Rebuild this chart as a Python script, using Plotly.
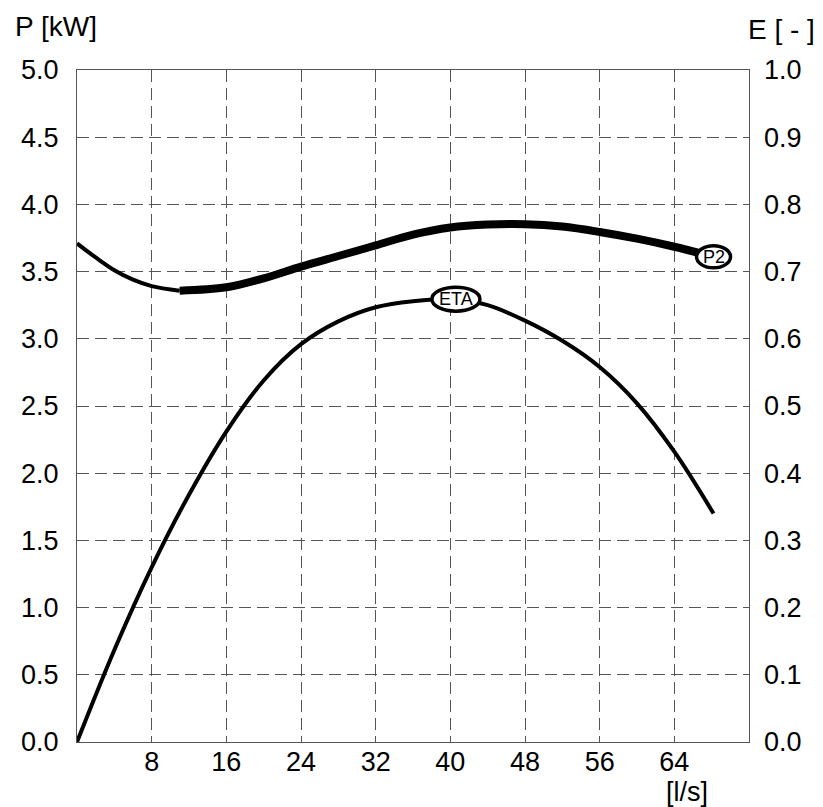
import plotly.graph_objects as go

# Flow [l/s]
q_p2 = [0, 2, 4, 6, 8, 11, 16, 20, 24, 28, 32, 36, 40, 44, 48, 52, 56, 60, 64, 68.2]
# Shaft power P2 [kW]
p2 = [3.71, 3.605, 3.51, 3.44, 3.392, 3.358, 3.383, 3.45, 3.537, 3.616, 3.695, 3.775, 3.828,
      3.85, 3.853, 3.835, 3.795, 3.745, 3.685, 3.61]
# index where the operating (thick) range begins
p2_thick_start = 5

q_eta = [0, 4, 8, 12, 16, 20, 24, 28, 32, 36, 40.6, 44, 48, 52, 56, 60, 64, 68.2]
eta = [0.0, 0.137, 0.26, 0.368, 0.462, 0.538, 0.592, 0.626, 0.647, 0.656, 0.659, 0.65, 0.627,
       0.597, 0.558, 0.504, 0.432, 0.34]

x_ticks = [8, 16, 24, 32, 40, 48, 56, 64]
p_ticks = [0.0, 0.5, 1.0, 1.5, 2.0, 2.5, 3.0, 3.5, 4.0, 4.5, 5.0]
e_ticks = [0.0, 0.1, 0.2, 0.3, 0.4, 0.5, 0.6, 0.7, 0.8, 0.9, 1.0]

FONT = "Liberation Sans, Arial, sans-serif"

fig = go.Figure()
fig.add_trace(go.Scatter(x=q_p2[:p2_thick_start + 1], y=p2[:p2_thick_start + 1], mode="lines",
                         line=dict(color="black", width=4, shape="spline"), showlegend=False))
fig.add_trace(go.Scatter(x=q_p2[p2_thick_start:], y=p2[p2_thick_start:], mode="lines",
                         line=dict(color="black", width=8, shape="spline"), showlegend=False))
fig.add_trace(go.Scatter(x=q_eta, y=eta, mode="lines", yaxis="y2",
                         line=dict(color="black", width=4, shape="spline"), showlegend=False))

# curve labels
i_eta = eta.index(max(eta))
fig.add_shape(type="circle", xref="x", yref="y", xsizemode="pixel", ysizemode="pixel",
              xanchor=q_p2[-1], yanchor=p2[-1], x0=-17, x1=17, y0=-11, y1=11,
              line=dict(color="black", width=3.5), fillcolor="white")
fig.add_annotation(x=q_p2[-1], y=p2[-1], xref="x", yref="y", text="P2", showarrow=False,
                   xanchor="center", yanchor="middle",
                   font=dict(family=FONT, size=18, color="black"))
fig.add_shape(type="circle", xref="x", yref="y2", xsizemode="pixel", ysizemode="pixel",
              xanchor=q_eta[i_eta], yanchor=eta[i_eta], x0=-24, x1=24, y0=-12, y1=12,
              line=dict(color="black", width=3.5), fillcolor="white")
fig.add_annotation(x=q_eta[i_eta], y=eta[i_eta], xref="x", yref="y2", text="ETA", showarrow=False,
                   xanchor="center", yanchor="middle",
                   font=dict(family=FONT, size=18, color="black"))

# axis titles
title_font = dict(family=FONT, size=28, color="black")
fig.add_annotation(x=-0.031, y=1.064, xref="paper", yref="paper", text="P [kW]", showarrow=False,
                   xanchor="center", yanchor="middle", font=title_font)
fig.add_annotation(x=1.049, y=1.061, xref="paper", yref="paper", text="E [ - ]", showarrow=False,
                   xanchor="center", yanchor="middle", font=title_font)
fig.add_annotation(x=0.908, y=-0.075, xref="paper", yref="paper", text="[l/s]", showarrow=False,
                   xanchor="center", yanchor="middle", font=dict(family=FONT, size=27, color="black"))

grid = dict(gridcolor="#555555", gridwidth=1, griddash="12px,6px")
tick_font = dict(family=FONT, size=27, color="black")
fig.update_layout(
    width=815, height=799,
    margin=dict(l=69, r=74, t=62, b=65),
    paper_bgcolor="white", plot_bgcolor="white",
    font=dict(family=FONT, size=27, color="black"),
    xaxis=dict(range=[0, 72], tickvals=x_ticks, showgrid=True, **grid, zeroline=False,
               showline=True, linecolor="#555555", linewidth=1, mirror=True,
               ticks="", tickfont=tick_font, ticklabelstandoff=-4),
    yaxis=dict(range=[0, 5], tickvals=p_ticks, tickformat=".1f", showgrid=True, **grid,
               zeroline=False, showline=True, linecolor="#555555", linewidth=1, mirror=True,
               ticks="", tickfont=tick_font, ticklabelstandoff=12),
    yaxis2=dict(range=[0, 1], tickvals=e_ticks, tickformat=".1f", overlaying="y", side="right",
                showgrid=False, zeroline=False, showline=False,
                ticks="", tickfont=tick_font, ticklabelstandoff=14),
)

fig.write_html("out.html")
